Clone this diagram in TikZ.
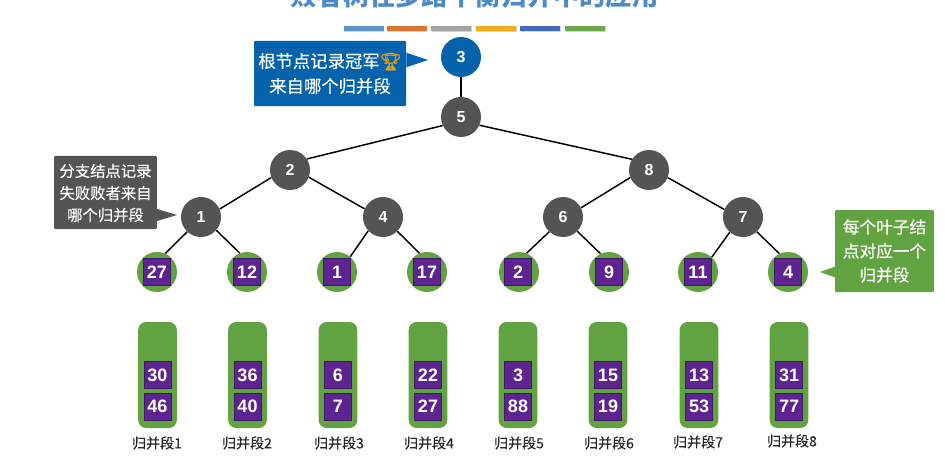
\documentclass[tikz,border=0pt]{standalone}
\usepackage{fontspec}
\setmainfont{Noto Sans CJK SC}
\newfontfamily\cjkm[FakeBold=0.35]{Noto Sans CJK SC}
\newfontfamily\numf{Liberation Sans}
\newfontfamily\emojif[FakeBold=2]{Noto Emoji}
\usetikzlibrary{shadows}
\definecolor{titleblue}{HTML}{4A8BC8}
\definecolor{rootblue}{HTML}{0563AE}
\definecolor{darkgray}{HTML}{545454}
\definecolor{leafgreen}{HTML}{62A341}
\definecolor{boxpurple}{HTML}{5C2391}
\definecolor{trophy}{HTML}{D9A021}
\tikzset{
  x=0.75pt,y=-0.75pt,
  circ/.style={circle,inner sep=0,minimum size=30pt,text=white,font=\numf\bfseries\fontsize{12}{14}\selectfont},
  rootc/.style={circ,fill=rootblue},
  branch/.style={circ,fill=darkgray},
  leaf/.style={circ,fill=leafgreen},
  sq/.style={rectangle,inner sep=0,minimum size=20pt,fill=boxpurple,draw=boxpurple!70!black,line width=0.3pt,text=white,font=\numf\bfseries\fontsize{13.5}{15}\selectfont},
  col/.style={rectangle,rounded corners=6pt,inner sep=0,minimum width=29pt,minimum height=79.5pt,fill=leafgreen},
  edge/.style={draw=black,line width=1.1pt},
  call/.style={rectangle,inner sep=0,rounded corners=0.8pt,text=white,align=center},
  seg/.style={font=\cjkm\fontsize{10.5}{12}\selectfont,text=black!85},
  bar/.style={rectangle,inner sep=0,minimum width=30pt,minimum height=4pt,drop shadow={shadow xshift=0.4pt,shadow yshift=-0.5pt,opacity=.35}},
}
\begin{document}
\begin{tikzpicture}
\useasboundingbox (0,0) rectangle (945,456);
\clip (0,0) rectangle (945,456);
\node[font=\bfseries\fontsize{19.7}{24}\selectfont,text=titleblue] (title) at (474.5,-4) {败者树在多路平衡归并中的应用};
\definecolor{b1}{HTML}{5B93CB}\definecolor{b2}{HTML}{DB7532}\definecolor{b3}{HTML}{A3A3A3}
\definecolor{b4}{HTML}{EFAE1A}\definecolor{b5}{HTML}{4169B4}\definecolor{b6}{HTML}{6FA84C}
\node[bar,fill=b1] (bar1) at (363.5,28.5) {};
\node[bar,fill=b2] (bar2) at (406.5,28.5) {};
\node[bar,fill=b3] (bar3) at (451,28.5) {};
\node[bar,fill=b4] (bar4) at (496,28.5) {};
\node[bar,fill=b5] (bar5) at (540,28.5) {};
\node[bar,fill=b6] (bar6) at (585,28.5) {};

% tree nodes
\node[rootc] (n3) at (461,57) {3};
\node[branch] (n5) at (461,117) {5};
\node[branch] (n2) at (290,170) {2};
\node[branch] (n8) at (649,170) {8};
\node[branch] (n1) at (201,217) {1};
\node[branch] (n4) at (383,217) {4};
\node[branch] (n6) at (563,217) {6};
\node[branch] (n7) at (743,217) {7};
\node[leaf] (l1) at (157,272) {};
\node[leaf] (l2) at (247,272) {};
\node[leaf] (l3) at (337,272) {};
\node[leaf] (l4) at (427,272) {};
\node[leaf] (l5) at (519,272) {};
\node[leaf] (l6) at (609,272) {};
\node[leaf] (l7) at (698,272) {};
\node[leaf] (l8) at (788,272) {};
\node[sq] (q1) at (l1) {27};
\node[sq] (q2) at (l2) {12};
\node[sq] (q3) at (l3) {1};
\node[sq] (q4) at (l4) {17};
\node[sq] (q5) at (518,272) {2};
\node[sq] (q6) at (l6) {9};
\node[sq] (q7) at (l7) {11};
\node[sq] (q8) at (l8) {4};

\draw[edge] (n3) -- (n5);
\draw[edge] (n5.205) -- (n2.33);
\draw[edge] (n5.-24) -- (n8.148);
\draw[edge] (n2.202) -- (n1.23);
\draw[edge] (n2.-21) -- (n4.156);
\draw[edge] (n8.202) -- (n6.27);
\draw[edge] (n8.-22) -- (n7.158);
\draw[edge] (n1.227) -- (l1.66);
\draw[edge] (n1.-41) -- (l2.111);
\draw[edge] (n4.223) -- (l3.49);
\draw[edge] (n4.-45) -- (l4.112);
\draw[edge] (n6.227) -- (l5.68);
\draw[edge] (n6.-45) -- (l6.115);
\draw[edge] (n7.229) -- (l7.47);
\draw[edge] (n7.-47) -- (l8.115);

% run columns
\foreach \i/\x/\a/\b/\lx/\ly in {1/157.5/30/46/157/443,2/247.5/36/40/247/443,3/338/6/7/339/443,4/428/22/27/429/443,5/518/3/88/519/443,6/608/15/19/609/443,7/699/13/53/698/442,8/789/31/77/792/441}{
  \node[col] (c\i) at (\x,375) {};
  \node[sq] (c\i a) at (\x,375) {\a};
  \node[sq] (c\i b) at (\x,406.5) {\b};
  \node[seg] (s\i) at (\lx,\ly) {归并段\i};
}

% callouts
\node[call,fill=rootblue,minimum width=114pt,minimum height=49pt,font=\cjkm\fontsize{13}{18.75}\selectfont] (cb) at (330,73.5) {根节点记录冠军{\emojif\textcolor{trophy}{🏆}}\\来自哪个归并段};
\coordinate (cbt) at (428,60);
\fill[rootblue] ([yshift=5.5pt]cb.east |- cbt) -- (cbt) -- ([yshift=-5.5pt]cb.east |- cbt) -- cycle;
\node[call,fill=darkgray,minimum width=77pt,minimum height=55pt,font=\cjkm\fontsize{11.5}{16.5}\selectfont] (cg) at (105.5,192.5) {\rule{0pt}{10.5pt}分支结点记录\\失败败者来自\\哪个归并段};
\coordinate (cgt) at (177,215);
\fill[darkgray] ([yshift=4.5pt]cg.east |- cgt) -- (cgt) -- ([yshift=-4.5pt]cg.east |- cgt) -- cycle;
\node[call,fill=leafgreen,minimum width=74pt,minimum height=61.5pt,font=\cjkm\fontsize{12.5}{18}\selectfont] (cv) at (884.5,251) {每个叶子结\\点对应一个\\归并段};
\coordinate (cvt) at (820,272);
\fill[leafgreen] ([yshift=4pt]cv.west |- cvt) -- (cvt) -- ([yshift=-4pt]cv.west |- cvt) -- cycle;
\end{tikzpicture}
\end{document}
